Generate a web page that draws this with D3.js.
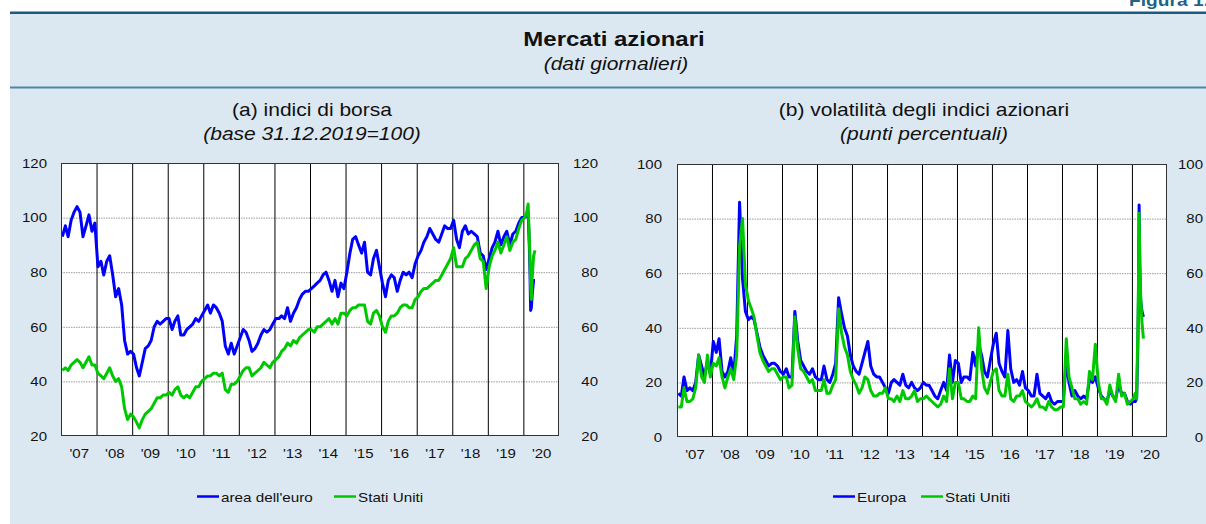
<!DOCTYPE html>
<html>
<head>
<meta charset="utf-8">
<script src="https://cdn.jsdelivr.net/npm/d3@7"></script>
<style>
  body { margin: 0; background: #fff; }
  text { font-family: 'Liberation Sans', Arial, Helvetica, sans-serif; fill: #111; }
</style>
</head>
<body>
<div id="chart"></div>
<script>
// monthly values, Jan 2007 .. Jan 2020 (one row per year)
const euroIdx = [
  93, 97, 93, 99, 102, 104, 102, 93, 97, 101, 95, 98,
  82, 84, 79, 84, 86, 79, 71, 74, 68, 55, 50, 51,
  50, 45, 42, 47, 52, 53, 55, 60, 62, 61, 62, 63,
  63, 59, 62, 64, 57, 57, 59, 60, 61, 63, 62, 64,
  66, 68, 65, 68, 67, 65, 62, 53, 50, 54, 50, 53,
  56, 59, 58, 55, 51, 52, 54, 57, 59, 58, 59, 61,
  63, 63, 64, 63, 67, 62, 65, 67, 70, 72, 73, 73,
  74, 75, 76, 77, 79, 80, 77, 73, 77, 71, 76, 74,
  80, 87, 92, 93, 90, 87, 91, 80, 79, 85, 88, 82,
  76, 71, 77, 79, 78, 73, 77, 80, 79, 80, 78, 83,
  86, 88, 91, 93, 96, 94, 92, 91, 94, 97, 96, 96,
  99, 92, 89, 95, 97, 94, 95, 94, 93, 87, 86, 81,
  85, 89, 91, 95, 90, 93, 95, 90, 94, 95, 98, 100,
  100
];
const usIdx = [
  44, 45, 44, 46, 47, 48, 47, 45, 47, 49, 46, 46,
  43, 42, 41, 43, 45, 42, 40, 41, 38, 30, 26, 28,
  27, 25, 23, 26, 28, 29, 30, 32, 34, 34, 35, 35,
  36, 35, 37, 38, 35, 34, 35, 34, 36, 38, 38, 40,
  41, 42, 42, 43, 43, 42, 43, 37, 36, 39, 39, 40,
  42, 44, 45, 45, 42, 43, 44, 45, 47, 46, 45, 47,
  48, 49, 51, 52, 54, 53, 55, 54, 56, 57, 58, 59,
  59, 58, 60, 60, 61, 62, 63, 61, 63, 61, 65, 65,
  64, 66, 67, 67, 68, 68, 68, 62, 61, 65, 66, 64,
  60, 58, 62, 64, 64, 65, 67, 68, 68, 67, 67, 70,
  71, 73, 74, 74, 75, 76, 77, 77, 79, 81, 83, 85,
  89, 82, 82, 82, 85, 86, 88, 90, 91, 85, 84, 74,
  82, 86, 88, 91, 87, 90, 93, 88, 91, 92, 96, 99,
  100
];
const euroVol = [
  16, 15, 22, 17, 18, 17, 20, 30, 26, 22, 28, 23,
  35, 31, 36, 24, 22, 24, 29, 23, 37, 86, 58, 46,
  43, 44, 43, 38, 33, 30, 28, 26, 27, 27, 26, 24,
  23, 25, 22, 22, 46, 35, 28, 26, 24, 23, 25, 22,
  21, 21, 26, 21, 20, 23, 27, 51, 45, 40, 37, 30,
  26, 24, 23, 27, 31, 35, 26, 23, 22, 22, 20, 18,
  16, 20, 21, 20, 19, 23, 19, 18, 20, 18, 17, 18,
  20, 19, 19, 17, 15, 14, 17, 20, 17, 30, 20, 28,
  27, 20, 22, 22, 21, 31, 26, 34, 30, 24, 22, 28,
  34, 38, 27, 24, 22, 39, 25, 20, 21, 19, 24, 18,
  17, 15, 15, 23, 16, 15, 14, 16, 13, 12, 13, 13,
  13, 28, 20, 15, 17, 15, 14, 15, 14, 21, 20, 22,
  18, 15, 14, 13, 17, 15, 14, 19, 16, 16, 13, 12,
  13
];
const usVol = [
  11, 11, 18, 13, 13, 14, 18, 30, 22, 20, 30, 22,
  27, 26, 29, 22, 18, 22, 25, 21, 30, 70, 80, 56,
  50, 47, 44, 37, 31, 28, 26, 24, 25, 25, 23, 21,
  22, 22, 18, 19, 44, 32, 25, 24, 22, 20, 21, 17,
  17, 17, 21, 16, 16, 19, 21, 47, 38, 33, 30, 24,
  21, 19, 16, 18, 22, 21, 17, 15, 15, 16, 16, 18,
  14, 14, 13, 15, 13, 17, 14, 14, 15, 17, 13, 14,
  14, 15, 14, 13, 12, 11, 12, 15, 13, 25, 14, 20,
  20, 14, 14, 13, 13, 15, 14, 40, 25, 18, 16, 20,
  24, 25, 17, 15, 15, 23, 14, 13, 15, 15, 17, 13,
  12, 11, 12, 14, 11, 11, 10, 13, 11, 10, 10, 11,
  11, 36, 22, 18, 14, 14, 12, 13, 12, 24, 21, 34,
  20, 14, 14, 12, 19, 15, 13, 23, 15, 16, 12, 13,
  14
];

// daily points around the 2020 sell-off
const tailDates = ["2020-02-05", "2020-02-19", "2020-03-02", "2020-03-09", "2020-03-16",
                   "2020-03-23", "2020-04-01", "2020-04-15", "2020-04-30"];
const euroIdxTail = [101, 102, 90, 80, 66, 67, 72, 77, 77];
const usIdxTail   = [102, 105, 93, 84, 75, 70, 78, 86, 88];
const euroVolTail = [13, 14, 32, 50, 85, 62, 50, 46, 44];
const usVolTail   = [16, 14, 38, 55, 82, 65, 52, 42, 36];

const years = d3.range(2007, 2021);
const yearLabels = years.map(y => "'" + String(y).slice(2));
const idxTicks = [20, 40, 60, 80, 100, 120];
const volTicks = [0, 20, 40, 60, 80, 100];

const W = 1206, H = 524, SX = 1.2;
const BLUE = "#0000ff", GREEN = "#00c800";

const monthDates = d3.timeMonth.range(new Date(2007, 0, 1), new Date(2020, 1, 1))
  .map(d => d3.timeDay.offset(d, 14));
const parse = d3.timeParse("%Y-%m-%d");
const allDates = monthDates.concat(tailDates.map(parse));
const series = (a, b) => a.concat(b).map((v, i) => ({date: allDates[i], v: v}));

const svg = d3.select("#chart").append("svg")
  .attr("width", W).attr("height", H);

svg.append("rect").attr("x", 10).attr("y", 13).attr("width", W - 10).attr("height", H - 13)
  .attr("fill", "#dce8f1");
svg.append("rect").attr("x", 10).attr("y", 11.5).attr("width", W - 10).attr("height", 2.5)
  .attr("fill", "#1d5b7d");
svg.append("rect").attr("x", 10).attr("y", 86.5).attr("width", W - 10).attr("height", 2)
  .attr("fill", "#4c87a6");

function label(x, y, str, size, opt) {
  opt = opt || {};
  return svg.append("text")
    .attr("transform", `translate(${x},${y}) scale(${SX},1)`)
    .attr("text-anchor", opt.anchor || "middle")
    .style("font-size", size + "px")
    .style("font-weight", opt.bold ? "bold" : null)
    .style("font-style", opt.italic ? "italic" : null)
    .style("fill", opt.fill || null)
    .text(str);
}

label(1209, 6, "Figura 1.", 16, {anchor: "end", bold: true, fill: "#1f6485"});
label(614, 46, "Mercati azionari", 20, {bold: true});
label(616, 70, "(dati giornalieri)", 17.5, {italic: true});

function panel(p) {
  const x = d3.scaleTime()
    .domain([new Date(2007, 0, 1), new Date(2021, 0, 1)])
    .range([p.x0, p.x1]);
  const y = d3.scaleLinear().domain(p.domain).range([p.y1, p.y0]);
  const w = p.x1 - p.x0, h = p.y1 - p.y0;

  label((p.x0 + p.x1) / 2 + 2, 116, p.title, 17.5);
  label((p.x0 + p.x1) / 2 + 2, 140, p.sub, 17.5, {italic: true});

  svg.append("rect").attr("x", p.x0).attr("y", p.y0).attr("width", w).attr("height", h)
    .attr("fill", "#fff");

  // dotted horizontal grid
  svg.append("g")
    .attr("transform", `translate(${p.x0},0)`)
    .call(d3.axisLeft(y).tickValues(p.ticks.slice(1, -1)).tickSize(-w).tickFormat(""))
    .call(g => g.select(".domain").remove())
    .selectAll("line").attr("stroke", "#9a9a9a").attr("stroke-dasharray", "1.5,1");

  // year separators
  svg.append("g")
    .attr("transform", `translate(0,${p.y1})`)
    .call(d3.axisBottom(x).tickValues(years.slice(1).map(v => new Date(v, 0, 1)))
      .tickSize(-h).tickFormat(""))
    .call(g => g.select(".domain").remove())
    .selectAll("line").attr("stroke", "#000").attr("stroke-width", 1);

  // year labels
  svg.append("g")
    .attr("transform", `translate(0,${p.y1})`)
    .call(d3.axisBottom(x).tickValues(years.map(v => new Date(v, 6, 2)))
      .tickSize(0).tickFormat((d, i) => yearLabels[i]))
    .call(g => g.select(".domain").remove())
    .selectAll("text")
    .attr("y", 0).attr("dy", 0)
    .attr("transform", `translate(0,22) scale(${SX},1)`)
    .style("font-size", "12.5px").style("fill", "#111");

  // y labels, left and right
  [[p.x0, p.lx], [p.x1, p.rx]].forEach(([ax, tx]) => {
    svg.append("g")
      .attr("transform", `translate(${ax},0)`)
      .call(d3.axisLeft(y).tickValues(p.ticks).tickSize(0).tickFormat(d3.format("d")))
      .call(g => g.select(".domain").remove())
      .selectAll("text")
      .attr("x", 0).attr("dy", "0.35em")
      .attr("text-anchor", "end")
      .attr("transform", `translate(${tx - ax},0) scale(${SX},1)`)
      .style("font-size", "12.5px").style("fill", "#111");
  });

  const line = d3.line().x(d => x(d.date)).y(d => y(d.v));
  p.lines.forEach(s => {
    svg.append("path").datum(s.data)
      .attr("fill", "none").attr("stroke", s.color).attr("stroke-width", 3)
      .attr("stroke-linejoin", "round")
      .attr("d", line);
  });

  svg.append("rect").attr("x", p.x0 + 0.5).attr("y", p.y0 + 0.5)
    .attr("width", w - 1).attr("height", h - 1)
    .attr("fill", "none").attr("stroke", "#333").attr("stroke-width", 1);

  // legend
  p.legend.forEach(l => {
    svg.append("line").attr("x1", l.x).attr("x2", l.x + 22)
      .attr("y1", 496.5).attr("y2", 496.5)
      .attr("stroke", l.color).attr("stroke-width", 2.5);
    label(l.x + 24, 502, l.text, 12.7, {anchor: "start"});
  });
}

panel({
  x0: 61, x1: 559, y0: 163, y1: 436, domain: [20, 120], ticks: idxTicks,
  lx: 47, rx: 598,
  title: "(a) indici di borsa", sub: "(base 31.12.2019=100)",
  lines: [
    {color: BLUE, data: series(euroIdx, euroIdxTail)},
    {color: GREEN, data: series(usIdx, usIdxTail)}
  ],
  legend: [
    {x: 197, color: BLUE, text: "area dell'euro"},
    {x: 334, color: GREEN, text: "Stati Uniti"}
  ]
});

panel({
  x0: 677, x1: 1167, y0: 164, y1: 437, domain: [0, 100], ticks: volTicks,
  lx: 662, rx: 1203,
  title: "(b) volatilità degli indici azionari", sub: "(punti percentuali)",
  lines: [
    {color: BLUE, data: series(euroVol, euroVolTail)},
    {color: GREEN, data: series(usVol, usVolTail)}
  ],
  legend: [
    {x: 833, color: BLUE, text: "Europa"},
    {x: 921, color: GREEN, text: "Stati Uniti"}
  ]
});
</script>
</body>
</html>
